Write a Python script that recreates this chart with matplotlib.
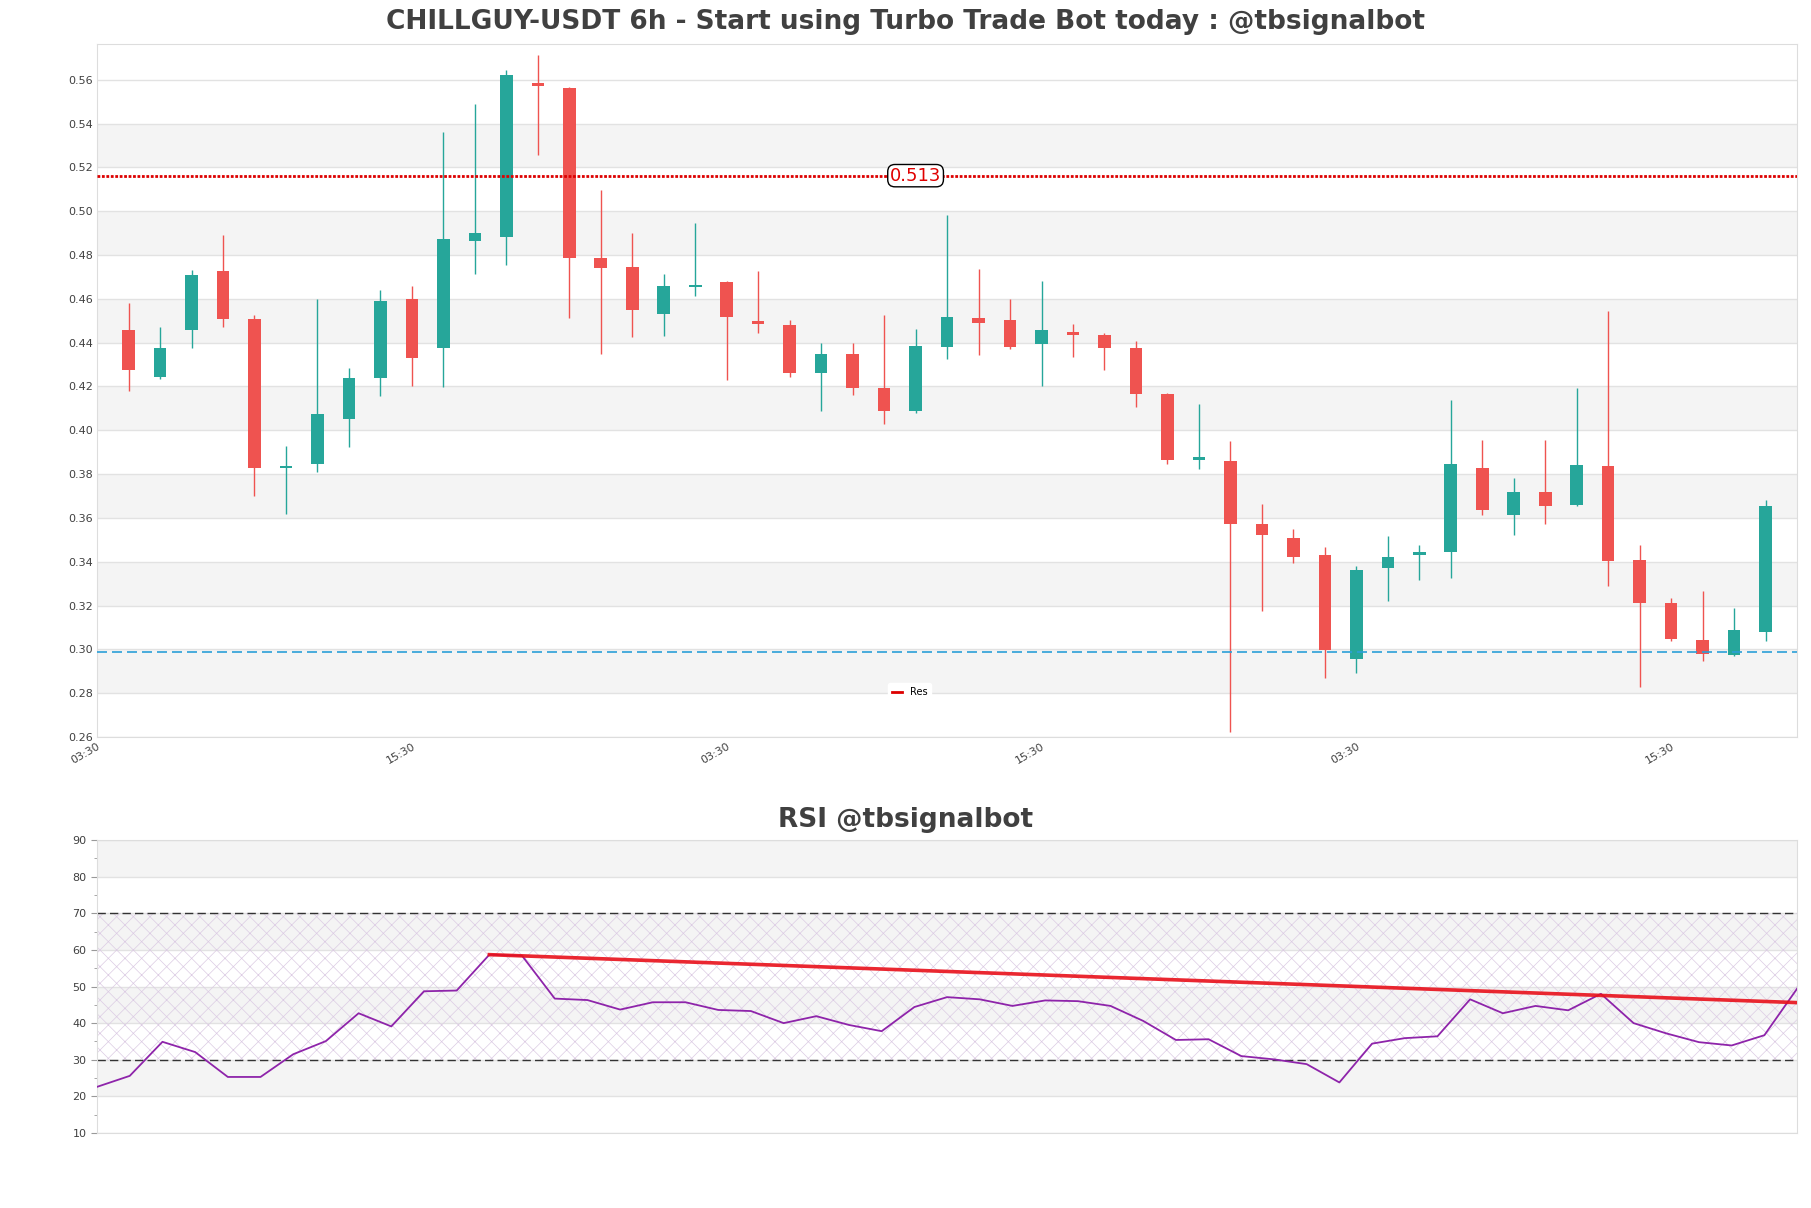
import numpy as np
import matplotlib
matplotlib.use("Agg")
import matplotlib.pyplot as plt
from matplotlib.lines import Line2D

# 6h candles
opens = [0.4456, 0.4245, 0.4458, 0.4729, 0.4506, 0.3827, 0.3848, 0.4050, 0.4239, 0.4597,
         0.4377, 0.4863, 0.4882, 0.5583, 0.5561, 0.4787, 0.4743, 0.4530, 0.4655, 0.4675,
         0.4499, 0.4479, 0.4263, 0.4346, 0.4195, 0.4090, 0.4381, 0.4514, 0.4501, 0.4392,
         0.4450, 0.4437, 0.4377, 0.4166, 0.3862, 0.3858, 0.3572, 0.3508, 0.3432, 0.2958,
         0.3370, 0.3430, 0.3446, 0.3829, 0.3612, 0.3719, 0.3657, 0.3835, 0.3409, 0.3212,
         0.3043, 0.2972, 0.3078]
highs = [0.4580, 0.4472, 0.4733, 0.4890, 0.4524, 0.3930, 0.4601, 0.4282, 0.4642, 0.4657,
         0.5360, 0.5488, 0.5646, 0.5712, 0.5567, 0.5095, 0.4899, 0.4714, 0.4944, 0.4679,
         0.4729, 0.4501, 0.4396, 0.4396, 0.4528, 0.4464, 0.4981, 0.4737, 0.4601, 0.4679,
         0.4483, 0.4446, 0.4408, 0.4172, 0.4119, 0.3953, 0.3663, 0.3550, 0.3469, 0.3380,
         0.3519, 0.3477, 0.4139, 0.3957, 0.3783, 0.3957, 0.4195, 0.4543, 0.3477, 0.3235,
         0.3268, 0.3190, 0.3680]
lows = [0.4181, 0.4232, 0.4377, 0.4472, 0.3699, 0.3616, 0.3810, 0.3922, 0.4156, 0.4203,
        0.4199, 0.4714, 0.4756, 0.5257, 0.4512, 0.4348, 0.4425, 0.4429, 0.4613, 0.4228,
        0.4443, 0.4243, 0.4088, 0.4160, 0.4028, 0.4081, 0.4326, 0.4342, 0.4371, 0.4203,
        0.4336, 0.4276, 0.4108, 0.3846, 0.3823, 0.2621, 0.3177, 0.3394, 0.2871, 0.2894,
        0.3219, 0.3318, 0.3324, 0.3612, 0.3521, 0.3574, 0.3655, 0.3287, 0.2826, 0.3037,
        0.2945, 0.2970, 0.3039]
closes = [0.4274, 0.4377, 0.4710, 0.4508, 0.3827, 0.3833, 0.4075, 0.4237, 0.4592, 0.4328,
          0.4872, 0.4899, 0.5621, 0.5571, 0.4787, 0.4739, 0.4549, 0.4657, 0.4662, 0.4516,
          0.4485, 0.4263, 0.4350, 0.4191, 0.4088, 0.4386, 0.4518, 0.4489, 0.4381, 0.4456,
          0.4435, 0.4377, 0.4166, 0.3866, 0.3879, 0.3574, 0.3521, 0.3421, 0.2997, 0.3363,
          0.3421, 0.3444, 0.3848, 0.3634, 0.3719, 0.3653, 0.3843, 0.3401, 0.3210, 0.3045,
          0.2981, 0.3088, 0.3655]

rsi = [22.6, 25.6, 34.9, 32.1, 25.3, 25.3, 31.5, 35.1, 42.7, 39.1,
       48.7, 48.9, 58.7, 58.4, 46.7, 46.3, 43.7, 45.7, 45.7, 43.6,
       43.3, 40.0, 41.9, 39.5, 37.8, 44.4, 47.1, 46.5, 44.7, 46.2,
       46.0, 44.7, 40.6, 35.4, 35.6, 31.0, 30.1, 28.8, 23.8, 34.4,
       35.9, 36.4, 46.5, 42.7, 44.7, 43.5, 48.0, 40.0, 37.2, 34.8,
       33.9, 36.7, 49.4]

resistance = 0.5162
resistance_label = "0.513"
support = 0.2990
rsi_trend_x = [12, 52]
rsi_trend_y = [58.7, 45.6]

xtick_pos = [-1, 9, 19, 29, 39, 49]
xtick_labels = ["03:30", "15:30", "03:30", "15:30", "03:30", "15:30"]
yticks = np.round(np.arange(0.26, 0.5601, 0.02), 2)
rsi_ticks = [10, 20, 30, 40, 50, 60, 70, 80, 90]

green = "#26a69a"
red = "#ef5350"
txt = "#404040"
band = "#f4f4f4"
gridc = "#e2e2e2"

fig = plt.figure(figsize=(18.11, 12.08), dpi=100)
ax1 = fig.add_axes([0.0536, 0.3899, 0.9387, 0.5737])
ax2 = fig.add_axes([0.0536, 0.0621, 0.9387, 0.2425])

# ---- price panel
idx = np.arange(len(opens))
o = np.array(opens)
c = np.array(closes)
up = c >= o
cols = np.where(up, green, red)

for lo in yticks[1:-1:2]:
    ax1.axhspan(lo, lo + 0.02, color=band, zorder=0, lw=0)
for y in yticks:
    ax1.axhline(y, color=gridc, lw=1, zorder=0.5)

ax1.vlines(idx, lows, highs, colors=cols, lw=1, zorder=2)
body_h = np.maximum(np.abs(c - o), 0.0008)
ax1.bar(idx, body_h, bottom=np.minimum(o, c), width=0.4, color=cols, zorder=3, lw=0)

ax1.axhline(resistance, color="#dd0000", lw=2, ls=(0, (1, 0.6)), zorder=4)
ax1.axhline(support, color="#2b9fd8", lw=1.2, ls=(0, (6, 3)), zorder=4)
ax1.text(25, resistance, resistance_label, color="#e00000", fontsize=13,
         ha="center", va="center", zorder=5,
         bbox=dict(boxstyle="round,pad=0.12,rounding_size=0.4", fc="white", ec="black", lw=1))

ax1.set_xlim(-1, len(opens))
ax1.set_ylim(0.26, 0.5763)
ax1.set_yticks(yticks)
ax1.set_yticklabels([f"{v:.2f}" for v in yticks])
ax1.set_xticks(xtick_pos)
ax1.set_xticklabels(xtick_labels, rotation=30, ha="right", rotation_mode="anchor")
ax1.tick_params(axis="both", length=0, labelsize=8, labelcolor=txt, pad=3)
for s in ax1.spines.values():
    s.set_color("#dddddd")

res_handle = Line2D([], [], color="#dd0000", lw=2)
ax1.legend([res_handle], ["Res"], loc="lower center", bbox_to_anchor=(0.478, 0.045),
           fontsize=7, frameon=True, framealpha=1, edgecolor="white", handlelength=1.0)

# ---- RSI panel
for lo in [20, 40, 60, 80]:
    ax2.axhspan(lo, lo + 10, color=band, zorder=0, lw=0)
for y in rsi_ticks:
    ax2.axhline(y, color=gridc, lw=1, zorder=0.5)

plt.rcParams["hatch.linewidth"] = 0.5
ax2.fill_between([0, len(rsi) - 1], 30, 70, facecolor="none", edgecolor="#dccbe4",
                 hatch="xx", lw=0, zorder=1)
ax2.axhline(70, color="#333333", lw=1, ls=(0, (6, 3)), zorder=2)
ax2.axhline(30, color="#333333", lw=1, ls=(0, (6, 3)), zorder=2)

ax2.plot(np.arange(len(rsi)), rsi, color="#8e24aa", lw=1.3, zorder=3)
ax2.plot(rsi_trend_x, rsi_trend_y, color="#e8101a", lw=2.6, alpha=0.9, zorder=4)

ax2.set_xlim(0, len(rsi) - 1)
ax2.set_ylim(10, 90)
ax2.set_yticks(rsi_ticks)
ax2.set_yticks(np.arange(15, 90, 5), minor=True)
ax2.set_xticks([])
ax2.tick_params(axis="y", which="major", length=4, color="#999999", labelsize=8, labelcolor=txt)
ax2.tick_params(axis="y", which="minor", length=2, color="#999999")
for s in ax2.spines.values():
    s.set_color("#dddddd")

fig.text(0.5, 0.9818, "CHILLGUY-USDT 6h - Start using Turbo Trade Bot today : @tbsignalbot",
         ha="center", va="center", fontsize=19, fontweight="bold", color=txt)
fig.text(0.5, 0.321, "RSI @tbsignalbot", ha="center", va="center",
         fontsize=19, fontweight="bold", color=txt)

fig.savefig("out.png", dpi=100)
